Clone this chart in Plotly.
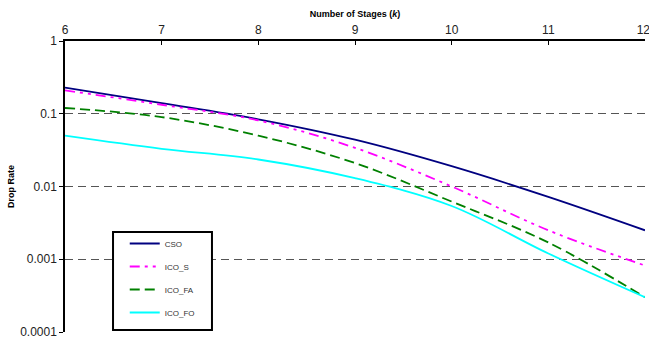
import plotly.graph_objects as go

stages = [6, 7, 8, 9, 10, 11, 12]
cso = [0.229, 0.14, 0.084, 0.044, 0.019, 0.0072, 0.0025]
ico_s = [0.21, 0.133, 0.081, 0.034, 0.010, 0.0025, 0.00082]
ico_fa = [0.12, 0.09, 0.05, 0.021, 0.0062, 0.0017, 0.0003]
ico_fo = [0.05, 0.033, 0.0235, 0.013, 0.0054, 0.0012, 0.0003]

y_ticks = [1, 0.1, 0.01, 0.001, 0.0001]
y_tick_text = ["1", "0.1", "0.01", "0.001", "0.0001"]
x_ticks = [6, 7, 8, 9, 10, 11, 12]
# last label nudged inward (as in the original, where it sits inside the edge)
x_tick_text = ["6", "7", "8", "9", "10", "11", "12\u00a0"]

series = [
    ("CSO", cso, "#000080", "solid"),
    ("ICO_S", ico_s, "#FF00FF", "10px,5px,3px,5px,3px,5px"),
    ("ICO_FA", ico_fa, "#008000", "10px,5px"),
    ("ICO_FO", ico_fo, "#00FFFF", "solid"),
]

fig = go.Figure()
for i, (name, vals, color, dash) in enumerate(series):
    fig.add_trace(go.Scatter(
        x=stages, y=vals, name=name, mode="lines",
        line=dict(color=color, width=1.8, dash=dash, shape="spline", smoothing=1.0),
        legendgroup=f"g{i}",
    ))

# legend frame drawn as a box (white filled, covers gridline like the original)
fig.add_shape(
    type="rect", xref="paper", yref="paper",
    x0=0.0828, x1=0.2534, y0=0.007, y1=0.3436,
    line=dict(color="black", width=2), fillcolor="white", layer="above",
)

fig.update_layout(
    width=649, height=344,
    margin=dict(l=65, r=4, t=41, b=12, autoexpand=False),
    paper_bgcolor="white", plot_bgcolor="white",
    font=dict(family="Arial, Liberation Sans, sans-serif", color="black"),
    showlegend=True,
    legend=dict(
        x=0.103, y=0.354, xanchor="left", yanchor="top",
        borderwidth=0, bgcolor="rgba(0,0,0,0)",
        font=dict(size=8, color="#333333"),
        traceorder="grouped", tracegroupgap=4,
    ),
)
fig.update_xaxes(
    side="top", range=[6, 12], tickvals=x_ticks, ticktext=x_tick_text,
    showline=True, linecolor="black", linewidth=1.5,
    ticks="inside", ticklen=4, tickcolor="black",
    showgrid=False, zeroline=False, automargin=False,
    ticklabeloverflow="allow",
    tickfont=dict(size=12, color="#222"),
    title=dict(text="<b>Number of Stages (<i>k</i>)</b>", font=dict(size=9), standoff=4),
)
fig.update_yaxes(
    type="log", range=[-4, 0], tickvals=y_ticks, ticktext=y_tick_text,
    showline=True, linecolor="black", linewidth=1.5,
    ticks="outside", ticklen=4, tickcolor="black",
    showgrid=True, gridcolor="#555555", griddash="8px,5px", gridwidth=1,
    zeroline=False, automargin=False, ticklabeloverflow="allow",
    tickfont=dict(size=12, color="#222"),
    title=dict(text="<b>Drop Rate</b>", font=dict(size=9), standoff=4),
)

# remove the browser's default 8px page margin so the figure fills the window exactly
fig.write_html(
    "out.html",
    config={"displayModeBar": False},
    post_script="document.body.style.margin='0';",
)
